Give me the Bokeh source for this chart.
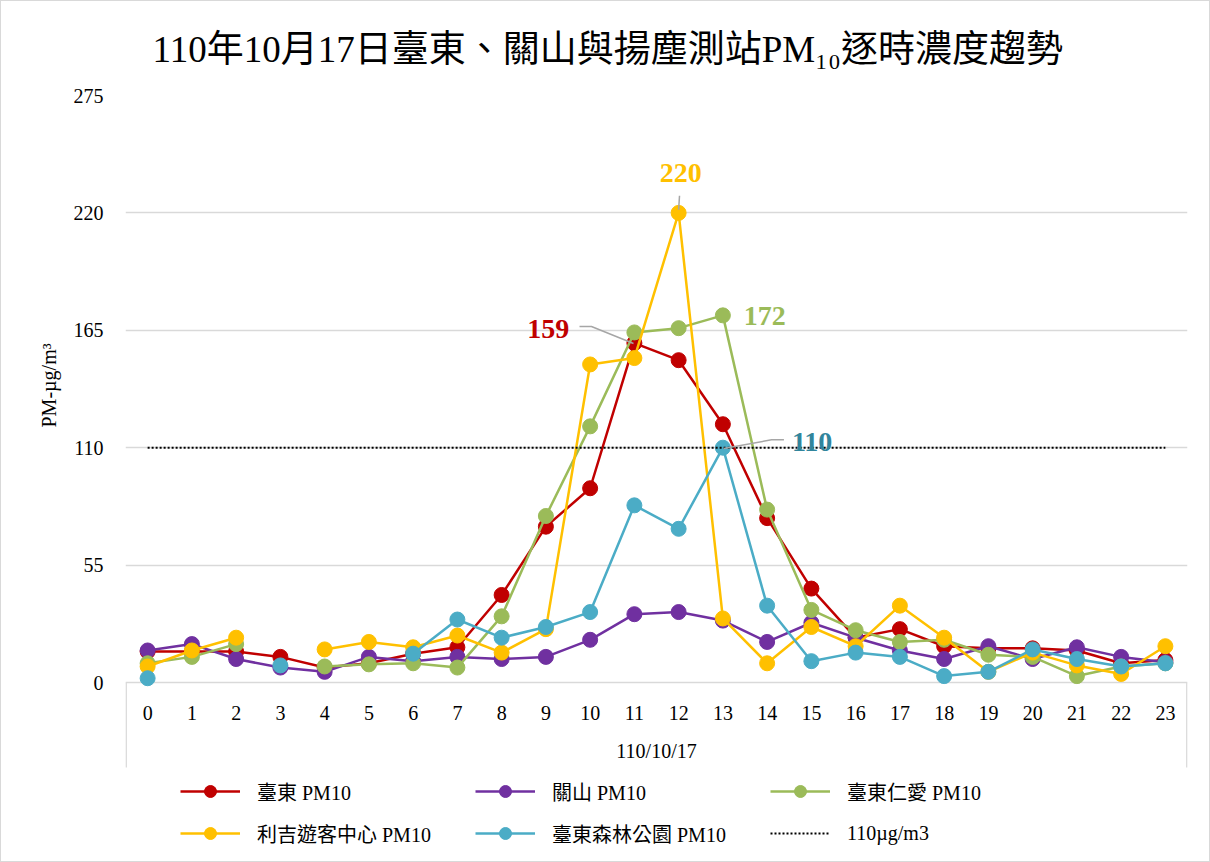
from bokeh.plotting import figure
from bokeh.models import Range1d, FixedTicker, Legend, LegendItem, Label, Title
from bokeh.core.properties import value
from bokeh.embed import file_html
from bokeh.resources import INLINE

nan = float("nan")

hours = [0, 1, 2, 3, 4, 5, 6, 7, 8, 9, 10, 11, 12, 13, 14, 15, 16, 17, 18, 19, 20, 21, 22, 23]
hour_labels = ["0", "1", "2", "3", "4", "5", "6", "7", "8", "9", "10", "11",
               "12", "13", "14", "15", "16", "17", "18", "19", "20", "21", "22", "23"]
y_ticks = [0, 55, 110, 165, 220, 275]

taitung = [14.5, 14.5, 14.5, 12, 7, 9, 13.5, 16.5, 41, 73, 91, 159, 151, 121, 77, 44,
           21, 25, 17, 16, 16, 15, 9, 10.5]
guanshan = [15, 18, 11, 7, 5, 12, 10, 12, 11, 12, 20, 32, 33, 29, 19, 28,
            21, 15, 11, 17, 11, 16.5, 12, 9.5]
renai = [9, 12, 18, nan, 7.5, 8.5, 9, 7, 31, 78, 120, 164, 166, 172, 81, 34,
         24.5, 19, 20, 13, 12, 3, 7.5, 9]
liji = [7.5, 15, 21, nan, 15.5, 19, 16.5, 22, 14, 25, 149, 152, 220, 30, 9, 26,
        17, 36, 21, 5, 14, 8, 4, 17]
forest = [2, nan, nan, 8, nan, nan, 13.5, 29.5, 21, 26, 33, 83, 72, 110, 36, 10,
          14, 12, 3, 5, 15.5, 11, 7.5, 9]
standard = [110, 110, 110, 110, 110, 110, 110, 110, 110, 110, 110, 110,
            110, 110, 110, 110, 110, 110, 110, 110, 110, 110, 110, 110]

series_names = ["臺東 PM10", "關山 PM10", "臺東仁愛 PM10", "利吉遊客中心 PM10", "臺東森林公園 PM10"]
series_values = [taitung, guanshan, renai, liji, forest]
series_colors = ["#C00000", "#7030A0", "#9BBB59", "#FFC000", "#4BACC6"]
standard_name = "110µg/m3"

title_text = "110年10月17日臺東、關山與揚塵測站PM₁₀逐時濃度趨勢"
x_title = "110/10/17"
y_title = "PM-µg/m³"

FONT = "'Liberation Serif', 'Noto Sans CJK TC', serif"
GRID = "#D9D9D9"

PLOT_H = 587          # pixels from 0 to 275
BOX_H = 85            # depth of the category box below the value area
FRAME_H = 766         # frame runs down to the bottom of the chart (legend lives inside)
Y_MAX = 275
PX = PLOT_H / Y_MAX
Y_MIN = -(FRAME_H - PLOT_H) / PX
Y_BOX = -BOX_H / PX

p = figure(frame_width=1062, frame_height=FRAME_H, output_backend="svg",
           toolbar_location=None, x_axis_location=None,
           x_range=Range1d(-0.5, 23.5), y_range=Range1d(Y_MIN, Y_MAX),
           min_border_left=124, min_border_right=22, min_border_top=94,
           min_border_bottom=0, background_fill_color="white",
           border_fill_color="white")
p.outline_line_color = None
p.styles = {"border": "1px solid #D9D9D9"}

# title
p.title.text = title_text
p.title.align = "left"
p.title.offset = 27
p.title.text_font = FONT
p.title.text_font_size = "37px"
p.title.text_font_style = "normal"
p.title.text_color = "black"
p.title.standoff = 51

# x axis drawn inside the frame as a category box
p.xgrid.grid_line_color = None

edge_l = p.x_range.start + 0.015
edge_r = p.x_range.end - 0.015
p.segment(x0=[edge_l, edge_r], y0=[0, 0], x1=[edge_l, edge_r], y1=[Y_BOX, Y_BOX],
          line_color=GRID, line_width=1.5)
p.text(x=hours, y=[-30 / PX] * len(hours), text=hour_labels, text_align="center",
       text_baseline="middle", text_font=value(FONT), text_font_size="20px",
       text_color="black")
p.text(x=[(p.x_range.start + p.x_range.end) / 2], y=[-68 / PX], text=[x_title],
       text_align="center", text_baseline="middle", text_font=value(FONT),
       text_font_size="20px", text_color="black")

# y axis
p.yaxis.ticker = FixedTicker(ticks=y_ticks)
p.yaxis.axis_line_color = None
p.yaxis.major_tick_line_color = None
p.yaxis.minor_tick_line_color = None
p.yaxis.major_tick_out = 0
p.yaxis.major_label_text_font = FONT
p.yaxis.major_label_text_font_size = "20px"
p.yaxis.major_label_text_color = "black"
p.yaxis.major_label_standoff = 22

p.add_layout(Title(text=y_title, align="left", offset=(FRAME_H - PLOT_H) + 255, standoff=22,
                   text_font=FONT, text_font_size="20px", text_font_style="normal",
                   text_color="black"), "left")

p.ygrid.ticker = FixedTicker(ticks=y_ticks)
p.ygrid.grid_line_color = GRID
p.ygrid.grid_line_width = 1.5

items = []
for name, vals, col in zip(series_names, series_values, series_colors):
    ln = p.line(hours, vals, line_color=col, line_width=2.5)
    sc = p.scatter(hours, vals, marker="circle", size=15, fill_color=col, line_color=col)
    items.append(LegendItem(label=name, renderers=[ln, sc]))
std_line = p.line(hours, standard, line_color="black", line_width=2, line_dash="2 2")
items.append(LegendItem(label=standard_name, renderers=[std_line]))

legend = Legend(items=items, location=(55, 13), orientation="horizontal", ncols=3,
                glyph_width=60, glyph_height=30, label_height=30, label_width=206,
                label_standoff=17, spacing=12, padding=10, margin=0,
                border_line_color=None, background_fill_alpha=0,
                label_text_font=FONT, label_text_font_size="20px",
                label_text_color="black")
p.add_layout(legend, "center")

# data labels with leader lines
LEAD = "#A6A6A6"
pk_liji = liji[12]
p.line([12.02, 12.0], [pk_liji + 8, pk_liji + 1.5], line_color=LEAD, line_width=1.5)
p.add_layout(Label(x=12.05, y=pk_liji + 18.5, text=str(int(pk_liji)), text_align="center",
                   text_baseline="middle", text_font=FONT, text_font_size="28px",
                   text_font_style="bold", text_color="#FFC000"))

pk_tt = taitung[11]
p.line([9.76, 10.03, 10.98], [pk_tt + 7.8, pk_tt + 7.8, pk_tt - 0.2], line_color=LEAD, line_width=1.5)
p.add_layout(Label(x=9.53, y=pk_tt + 6.8, text=str(int(pk_tt)), text_align="right",
                   text_baseline="middle", text_font=FONT, text_font_size="28px",
                   text_font_style="bold", text_color="#C00000"))

pk_ra = renai[13]
p.add_layout(Label(x=13.47, y=pk_ra - 0.5, text=str(int(pk_ra)), text_align="left",
                   text_baseline="middle", text_font=FONT, text_font_size="28px",
                   text_font_style="bold", text_color="#9BBB59"))

pk_fo = forest[13]
p.line([13.02, 14.1, 14.38], [pk_fo - 0.4, pk_fo + 3.7, pk_fo + 3.7], line_color=LEAD, line_width=1.5)
p.add_layout(Label(x=14.56, y=pk_fo + 2.9, text=str(int(pk_fo)), text_align="left",
                   text_baseline="middle", text_font=FONT, text_font_size="28px",
                   text_font_style="bold", text_color="#31859C"))

open("out.html", "w").write(file_html(p, INLINE))
